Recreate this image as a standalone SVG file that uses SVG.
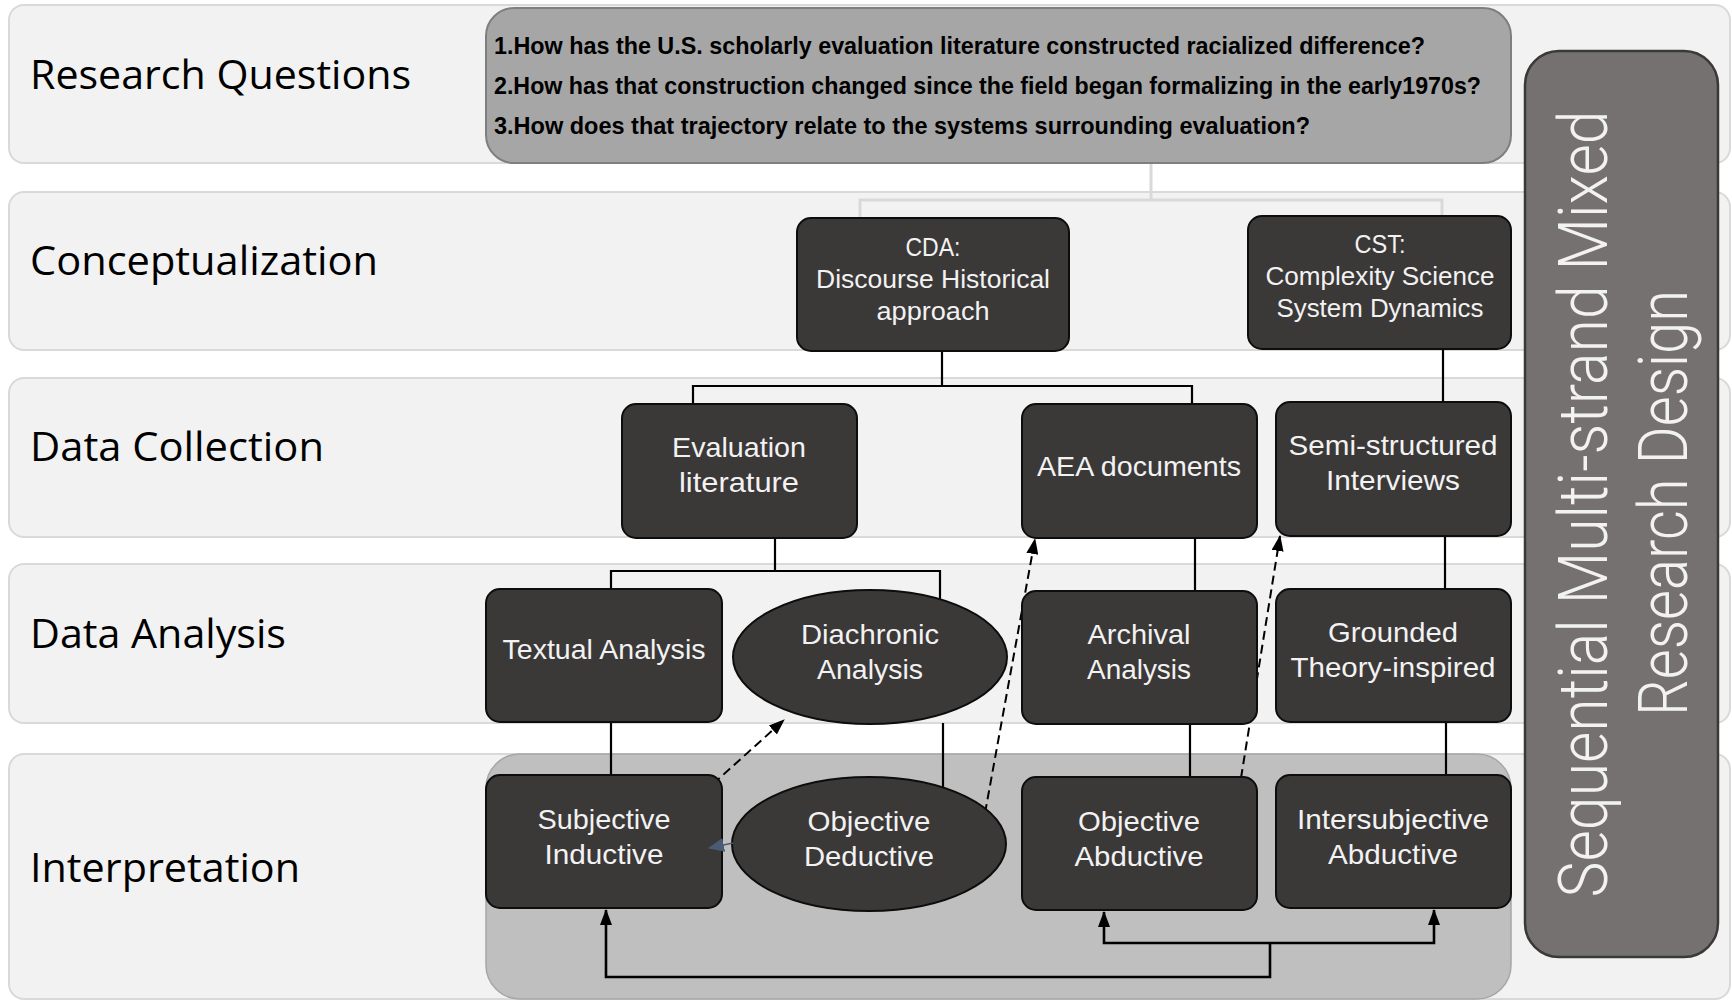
<svg xmlns="http://www.w3.org/2000/svg" width="1732" height="1002" viewBox="0 0 1732 1002">
  <defs>
    <style>
      .band { fill: #f2f2f2; stroke: #d9d9d9; stroke-width: 2; }
      .band-label { font-family: "Open Sans", "Liberation Sans", sans-serif; font-size: 40px; fill: #000; }
      .node { fill: #3b3838; stroke: #0d0d0d; stroke-width: 2; }
      .ntxt { font-family: "Liberation Sans", Arial, sans-serif; font-size: 28px; fill: #f2f2f2; text-anchor: middle; }
      .ntxt-s { font-family: "Liberation Sans", Arial, sans-serif; font-size: 26px; fill: #f2f2f2; text-anchor: middle; }
      .rq { font-family: "Liberation Sans", Arial, sans-serif; font-size: 24px; font-weight: bold; fill: #000; }
      .link { fill: none; stroke: #000; stroke-width: 2.2; }
      .link-light { fill: none; stroke: #d9d9d9; stroke-width: 3; }
      .dash { fill: none; stroke: #000; stroke-width: 2; stroke-dasharray: 9 5; }
      .flow { fill: none; stroke: #000; stroke-width: 2.6; }
    </style>
    <marker id="arr" markerUnits="userSpaceOnUse" markerWidth="16" markerHeight="12" refX="15" refY="6" orient="auto">
      <path d="M0,0 L16,6 L0,12 z" fill="#000"/>
    </marker>
    <marker id="arr-blue" markerUnits="userSpaceOnUse" markerWidth="16" markerHeight="14" refX="15" refY="7" orient="auto">
      <path d="M0,0 L16,7 L0,14 z" fill="#4a5b74"/>
    </marker>
  </defs>

  <!-- phase bands -->
  <g id="bands">
    <rect class="band" x="9" y="5" width="1721" height="158" rx="15"/>
    <rect class="band" x="9" y="192" width="1721" height="158" rx="15"/>
    <rect class="band" x="9" y="378" width="1721" height="159" rx="15"/>
    <rect class="band" x="9" y="564" width="1721" height="159" rx="15"/>
    <rect class="band" x="9" y="754" width="1721" height="245" rx="15"/>
    <text class="band-label" x="30" y="89" textLength="381" lengthAdjust="spacingAndGlyphs">Research Questions</text>
    <text class="band-label" x="30" y="275" textLength="348" lengthAdjust="spacingAndGlyphs">Conceptualization</text>
    <text class="band-label" x="30" y="461" textLength="294" lengthAdjust="spacingAndGlyphs">Data Collection</text>
    <text class="band-label" x="30" y="648" textLength="256" lengthAdjust="spacingAndGlyphs">Data Analysis</text>
    <text class="band-label" x="30" y="882" textLength="270" lengthAdjust="spacingAndGlyphs">Interpretation</text>
  </g>

  <!-- interpretation container -->
  <rect id="interp-area" x="486" y="754" width="1025" height="245" rx="34" fill="#bfbfbf" stroke="#a6a6a6" stroke-width="1.5"/>

  <!-- connectors -->
  <g id="connectors">
    <path class="link-light" d="M1151 163 V200 M860 218 V200 H1442 V216"/>
    <path class="link" d="M942 351 V386 M693 404 V386 H1192 V404"/>
    <path class="link" d="M1443 349 V402"/>
    <path class="link" d="M775 538 V571 M611 589 V571 H940 V600"/>
    <path class="link" d="M1195 538 V591"/>
    <path class="link" d="M1445 536 V589"/>
    <path class="link" d="M611 722 V775"/>
    <path class="link" d="M943 723 V789"/>
    <path class="link" d="M1190 724 V777"/>
    <path class="link" d="M1446 722 V775"/>
    <path class="dash" d="M713 784 L784 720" marker-end="url(#arr)"/>
    <path class="dash" d="M985 813 L1035 539" marker-end="url(#arr)"/>
    <path class="dash" d="M1241 778 L1280 536" marker-end="url(#arr)"/>
    <path class="flow" d="M1270 943 V977 H606 V910" marker-end="url(#arr)"/>
    <path class="flow" d="M1270 943 H1104 V912" marker-end="url(#arr)"/>
    <path class="flow" d="M1270 943 H1434 V910" marker-end="url(#arr)"/>
  </g>

  <!-- research questions -->
  <g id="rq">
    <rect x="486" y="8" width="1025" height="155" rx="28" fill="#a6a6a6" stroke="#7f7f7f" stroke-width="2"/>
    <text class="rq" x="494" y="54" textLength="931" lengthAdjust="spacingAndGlyphs">1.How has the U.S. scholarly evaluation literature constructed racialized difference?</text>
    <text class="rq" x="494" y="94" textLength="987" lengthAdjust="spacingAndGlyphs">2.How has that construction changed since the field began formalizing in the early1970s?</text>
    <text class="rq" x="494" y="134" textLength="816" lengthAdjust="spacingAndGlyphs">3.How does that trajectory relate to the systems surrounding evaluation?</text>
  </g>

  <!-- conceptualization -->
  <g id="cda">
    <rect class="node" x="797" y="218" width="272" height="133" rx="14"/>
    <text class="ntxt-s" x="933" y="256" textLength="55" lengthAdjust="spacingAndGlyphs">CDA:</text>
    <text class="ntxt-s" x="933" y="288" textLength="234" lengthAdjust="spacingAndGlyphs">Discourse Historical</text>
    <text class="ntxt-s" x="933" y="320" textLength="113" lengthAdjust="spacingAndGlyphs">approach</text>
  </g>
  <g id="cst">
    <rect class="node" x="1248" y="216" width="263" height="133" rx="14"/>
    <text class="ntxt-s" x="1380" y="253" textLength="51" lengthAdjust="spacingAndGlyphs">CST:</text>
    <text class="ntxt-s" x="1380" y="285" textLength="229" lengthAdjust="spacingAndGlyphs">Complexity Science</text>
    <text class="ntxt-s" x="1380" y="317" textLength="207" lengthAdjust="spacingAndGlyphs">System Dynamics</text>
  </g>

  <!-- data collection -->
  <g id="eval-lit">
    <rect class="node" x="622" y="404" width="235" height="134" rx="14"/>
    <text class="ntxt" x="739" y="457" textLength="134" lengthAdjust="spacingAndGlyphs">Evaluation</text>
    <text class="ntxt" x="739" y="492" textLength="120" lengthAdjust="spacingAndGlyphs">literature</text>
  </g>
  <g id="aea-docs">
    <rect class="node" x="1022" y="404" width="235" height="134" rx="14"/>
    <text class="ntxt" x="1139" y="476" textLength="204" lengthAdjust="spacingAndGlyphs">AEA documents</text>
  </g>
  <g id="interviews">
    <rect class="node" x="1276" y="402" width="235" height="134" rx="14"/>
    <text class="ntxt" x="1393" y="455" textLength="209" lengthAdjust="spacingAndGlyphs">Semi-structured</text>
    <text class="ntxt" x="1393" y="490" textLength="134" lengthAdjust="spacingAndGlyphs">Interviews</text>
  </g>

  <!-- data analysis -->
  <g id="textual">
    <rect class="node" x="486" y="589" width="236" height="133" rx="14"/>
    <text class="ntxt" x="604" y="659" textLength="203" lengthAdjust="spacingAndGlyphs">Textual Analysis</text>
  </g>
  <g id="diachronic">
    <ellipse class="node" cx="870" cy="657" rx="137" ry="67"/>
    <text class="ntxt" x="870" y="644" textLength="138" lengthAdjust="spacingAndGlyphs">Diachronic</text>
    <text class="ntxt" x="870" y="679" textLength="106" lengthAdjust="spacingAndGlyphs">Analysis</text>
  </g>
  <g id="archival">
    <rect class="node" x="1022" y="591" width="235" height="133" rx="14"/>
    <text class="ntxt" x="1139" y="644" textLength="103" lengthAdjust="spacingAndGlyphs">Archival</text>
    <text class="ntxt" x="1139" y="679" textLength="104" lengthAdjust="spacingAndGlyphs">Analysis</text>
  </g>
  <g id="grounded">
    <rect class="node" x="1276" y="589" width="235" height="133" rx="14"/>
    <text class="ntxt" x="1393" y="642" textLength="130" lengthAdjust="spacingAndGlyphs">Grounded</text>
    <text class="ntxt" x="1393" y="677" textLength="205" lengthAdjust="spacingAndGlyphs">Theory-inspired</text>
  </g>

  <!-- interpretation -->
  <g id="subj-inductive">
    <rect class="node" x="486" y="775" width="236" height="133" rx="14"/>
    <text class="ntxt" x="604" y="829" textLength="133" lengthAdjust="spacingAndGlyphs">Subjective</text>
    <text class="ntxt" x="604" y="864" textLength="119" lengthAdjust="spacingAndGlyphs">Inductive</text>
  </g>
  <g id="obj-deductive">
    <ellipse class="node" cx="869" cy="844" rx="137" ry="67"/>
    <text class="ntxt" x="869" y="831" textLength="123" lengthAdjust="spacingAndGlyphs">Objective</text>
    <text class="ntxt" x="869" y="866" textLength="130" lengthAdjust="spacingAndGlyphs">Deductive</text>
  </g>
  <g id="obj-abductive">
    <rect class="node" x="1022" y="777" width="235" height="133" rx="14"/>
    <text class="ntxt" x="1139" y="831" textLength="122" lengthAdjust="spacingAndGlyphs">Objective</text>
    <text class="ntxt" x="1139" y="866" textLength="129" lengthAdjust="spacingAndGlyphs">Abductive</text>
  </g>
  <g id="intersubj-abductive">
    <rect class="node" x="1276" y="775" width="235" height="133" rx="14"/>
    <text class="ntxt" x="1393" y="829" textLength="192" lengthAdjust="spacingAndGlyphs">Intersubjective</text>
    <text class="ntxt" x="1393" y="864" textLength="130" lengthAdjust="spacingAndGlyphs">Abductive</text>
  </g>

  <!-- short link from the deductive ellipse back to the inductive box -->
  <path d="M733 843 L709 848" fill="none" stroke="#4a5b74" stroke-width="1.5" marker-end="url(#arr-blue)"/>

  <!-- overall design -->
  <g id="design">
    <rect x="1525" y="51" width="193" height="906" rx="34" fill="#767171" stroke="#3b3838" stroke-width="2.5"/>
    <text transform="translate(1607 504) rotate(-90)" text-anchor="middle" font-family="Roboto, 'Liberation Sans', sans-serif" font-weight="300" font-size="68" fill="#f2f2f2" textLength="787" lengthAdjust="spacingAndGlyphs">Sequential Multi-strand Mixed</text>
    <text transform="translate(1687 503) rotate(-90)" text-anchor="middle" font-family="Roboto, 'Liberation Sans', sans-serif" font-weight="300" font-size="68" fill="#f2f2f2" textLength="426" lengthAdjust="spacingAndGlyphs">Research Design</text>
  </g>
</svg>
